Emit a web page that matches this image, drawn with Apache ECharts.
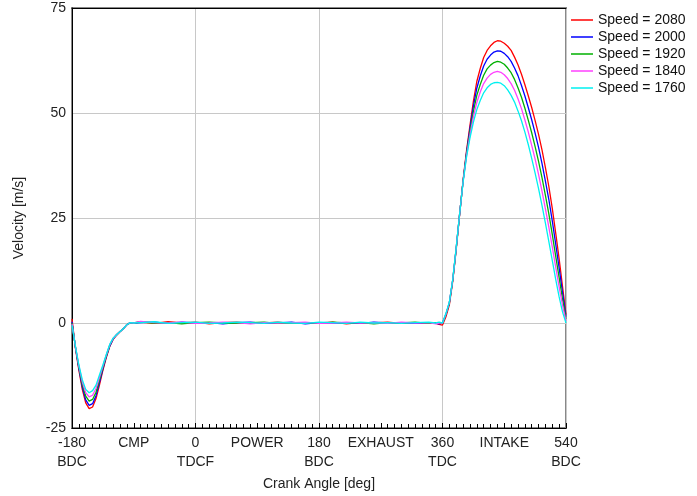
<!DOCTYPE html>
<html>
<head>
<meta charset="utf-8">
<script src="https://cdn.jsdelivr.net/npm/echarts@6/dist/echarts.min.js"></script>
<style>html,body{margin:0;padding:0;background:#fff}#c{width:697px;height:496px}</style>
</head>
<body>
<div id="c"></div>
<script>
var angles = [-180,-175,-170,-165,-160,-155,-150,-145,-140,-135,-130,-125,-120,-115,-110,-105,-100,-95,-90,
  -80,-60,-40,-20,0,20,40,60,80,100,120,140,160,180,200,220,240,260,280,300,320,340,350,355,
  360,365,370,375,380,385,390,395,
  400,405,410,415,420,425,430,435,440,445,450,455,460,465,470,475,480,485,490,495,500,505,510,515,520,525,530,535,540];

var speedNames = ['Speed = 2080','Speed = 2000','Speed = 1920','Speed = 1840','Speed = 1760'];
var speedColors = ['#ff0000','#0000ff','#00b000','#ff40ff','#00f0f0'];

var v2080 = [1.0,-6,-11.2,-15.8,-19,-20.4,-20,-18,-14.8,-11.3,-8.2,-5.6,-3.9,-2.9,-2.1,-1.3,-0.4,0.1,0,
  0.2,-0.1,0.3,0,0.2,-0.2,0.1,0.2,-0.1,0,0.2,-0.1,0.1,0,0.2,-0.2,0.1,0,0.2,-0.1,0.1,0,-0.1,-0.3,
  -0.5,1.5,4.3,10,17.5,25.8,34,41,
  47,52.8,57.5,60.6,63.2,64.9,66.0,66.8,67.2,67.1,66.6,65.9,64.9,63.3,61.5,59.3,56.8,54.1,51.3,48.2,44.9,41.2,37,32.5,27.3,21.4,15.3,8.6,2.0];
var v2000 = [0.3,-5.8,-10.8,-15.2,-18.3,-19.6,-19.2,-17.3,-14.2,-11,-8,-5.5,-3.8,-2.8,-2,-1.3,-0.4,0.1,0,
  0.1,0.2,-0.1,0.2,0,0.1,-0.2,0.1,0.2,-0.1,0,0.2,-0.2,0.1,0,0.1,-0.1,0.2,0,0.1,-0.1,0.1,0,-0.2,
  0,2,4.8,10.3,17.8,26,33.8,40.5,
  46.3,51.6,55.9,58.8,61.2,62.8,63.8,64.5,64.8,64.7,64.2,63.4,62.3,60.7,58.9,56.6,54.1,51.3,48.4,45.2,41.8,38,33.8,29.4,24.3,18.8,13.1,7.2,1.5];
var v1920 = [0,-5.7,-10.5,-14.6,-17.4,-18.6,-18.2,-16.5,-13.6,-10.6,-7.8,-5.3,-3.7,-2.8,-2,-1.3,-0.4,0.1,0,
  0.3,0,0.1,-0.2,0.1,0.2,0,-0.1,0.1,0.2,-0.1,0,0.1,-0.1,0.2,0,0.1,-0.2,0.1,0,0.2,-0.1,0.1,-0.1,
  0,2,4.8,10.3,17.8,26,33.8,40.2,
  45.5,50.3,54.2,56.8,59,60.5,61.4,62,62.3,62.1,61.6,60.7,59.6,58,56,53.8,51.2,48.3,45.3,42,38.5,34.6,30.4,26,21.1,15.9,10.8,5.6,1];
var v1840 = [-0.2,-5.6,-10.2,-14,-16.6,-17.6,-17.2,-15.6,-13,-10.3,-7.6,-5.2,-3.7,-2.8,-2.1,-1.3,-0.4,0.1,0,
  0.4,0.1,0,0.2,-0.1,0,0.2,0.1,-0.2,0.1,0,0.1,0.2,-0.1,0,0.2,0,0.1,-0.1,0.2,0,0.1,-0.2,0,
  0,2.1,4.9,10.4,17.9,26,33.7,39.8,
  44.8,49.1,52.5,55,57,58.3,59.2,59.7,59.9,59.7,59.1,58.2,57,55.4,53.4,51.1,48.4,45.5,42.3,39,35.4,31.4,27.2,22.8,18.1,13.3,8.6,4.2,0.5];
var v1760 = [-0.5,-5.5,-10,-13.5,-15.8,-16.6,-16.1,-14.8,-12.4,-10,-7.5,-5.1,-3.6,-2.8,-2.1,-1.3,-0.4,0.1,0,
  0.1,0.3,-0.1,0.1,0.2,-0.1,0,0.2,0.1,-0.1,0.2,0,-0.1,0.2,0.1,-0.1,0.2,0,0.1,-0.1,0.1,0.2,0,0.2,
  0,2.3,5,10.5,18,26,33.5,39.5,
  44,47.8,50.8,53,54.8,56,56.8,57.2,57.3,57.1,56.5,55.5,54.2,52.6,50.5,48.2,45.5,42.5,39.2,35.7,32,28,23.8,19.4,14.9,10.4,6.2,2.6,0];

var seriesValues = [v2080, v2000, v1920, v1840, v1760];

var xTickValues = [-180,-90,0,90,180,270,360,450,540];
var xTickLabels = ['-180\nBDC','CMP','0\nTDCF','POWER','180\nBDC','EXHAUST','360\nTDC','INTAKE','540\nBDC'];
var yTicks = [-25,0,25,50,75];

var font = 'Liberation Sans, Arial, sans-serif';
var chart = echarts.init(document.getElementById('c'));

var series = seriesValues.map(function (vals, i) {
  return {
    name: speedNames[i],
    type: 'line',
    xAxisIndex: 0,
    symbol: 'none',
    smooth: false,
    lineStyle: {color: speedColors[i], width: 1.3},
    itemStyle: {color: speedColors[i]},
    data: angles.map(function (a, k) { return [a, vals[k]]; }),
    z: 3 + i
  };
});

chart.setOption({
  animation: false,
  backgroundColor: '#fff',
  grid: {left: 72, right: 131, top: 8, bottom: 68, show: true, borderColor: '#888', borderWidth: 2},
  legend: {
    orient: 'vertical', left: 566, top: 8,
    itemWidth: 22, itemHeight: 1.5, itemGap: 3,
    icon: 'rect',
    textStyle: {fontFamily: font, fontSize: 14, color: '#111'},
    data: speedNames
  },
  xAxis: [{
    type: 'value', min: -180, max: 540, interval: 90,
    name: 'Crank Angle [deg]', nameLocation: 'middle', nameGap: 47,
    nameTextStyle: {fontFamily: font, fontSize: 14, color: '#222'},
    axisLine: {onZero: false, lineStyle: {color: '#000', width: 1}},
    axisTick: {inside: true, length: 5, lineStyle: {color: '#000'}},
    minorTick: {show: true, splitNumber: 9, length: 4, lineStyle: {color: '#000'}},
    splitLine: {show: false},
    axisLabel: {
      fontFamily: font, fontSize: 14, color: '#222', margin: 6, lineHeight: 19,
      showMinLabel: true, showMaxLabel: true,
      formatter: function (v) { var i = xTickValues.indexOf(v); return i >= 0 ? xTickLabels[i] : ''; }
    }
  }, {
    type: 'value', min: -180, max: 540, interval: 180, position: 'top',
    axisLine: {show: true, onZero: false, lineStyle: {color: '#000', width: 1}},
    axisTick: {show: false}, axisLabel: {show: false},
    splitLine: {show: true, lineStyle: {color: '#c8c8c8', width: 1}}
  }],
  yAxis: {
    type: 'value', min: -25, max: 75, interval: 25,
    name: 'Velocity [m/s]', nameLocation: 'middle', nameGap: 46, nameRotate: 90,
    nameTextStyle: {fontFamily: font, fontSize: 14, color: '#222'},
    axisLine: {show: true, onZero: false, lineStyle: {color: '#000', width: 1}},
    axisTick: {show: false},
    splitLine: {show: true, lineStyle: {color: '#c8c8c8', width: 1}},
    axisLabel: {fontFamily: font, fontSize: 14, color: '#222', margin: 6,
      formatter: function (v) { return yTicks.indexOf(v) >= 0 ? String(v) : ''; }}
  },
  series: series
});
</script>
</body>
</html>
